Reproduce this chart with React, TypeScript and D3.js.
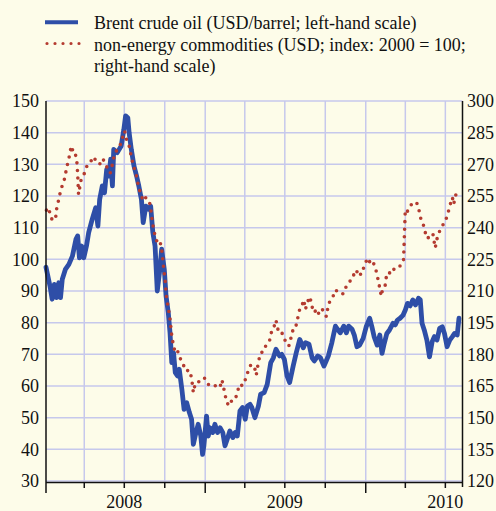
import React from "react";
import * as d3 from "d3";

// Brent crude oil, USD/barrel (left-hand scale)
const brentDates: string[] = [
  "2008-01-05","2008-01-14","2008-01-19","2008-01-24","2008-01-29","2008-02-03","2008-02-07","2008-02-11","2008-02-18","2008-02-26",
  "2008-03-05","2008-03-13","2008-03-17","2008-03-21","2008-03-26","2008-03-31","2008-04-06","2008-04-11","2008-04-19","2008-04-27",
  "2008-05-02","2008-05-06","2008-05-12","2008-05-17","2008-05-22","2008-05-27","2008-05-31","2008-06-04","2008-06-07","2008-06-15",
  "2008-06-24","2008-06-30","2008-07-04","2008-07-09","2008-07-12","2008-07-17","2008-07-23","2008-07-29","2008-08-03","2008-08-09",
  "2008-08-13","2008-08-19","2008-08-25","2008-08-30","2008-09-04","2008-09-09","2008-09-14","2008-09-19","2008-09-24","2008-09-30",
  "2008-10-04","2008-10-09","2008-10-13","2008-10-17","2008-10-21","2008-10-25","2008-10-30","2008-11-03","2008-11-09","2008-11-14",
  "2008-11-20","2008-11-26","2008-12-01","2008-12-05","2008-12-11","2008-12-16","2008-12-22","2008-12-26","2008-12-29","2009-01-04",
  "2009-01-08","2009-01-12","2009-01-18","2009-01-23","2009-01-29","2009-02-04","2009-02-10","2009-02-15","2009-02-20","2009-02-26",
  "2009-03-05","2009-03-10","2009-03-15","2009-03-21","2009-03-27","2009-04-02","2009-04-07","2009-04-13","2009-04-17","2009-04-24",
  "2009-05-02","2009-05-07","2009-05-15","2009-05-22","2009-05-30","2009-06-05","2009-06-11","2009-06-19","2009-06-24","2009-06-30",
  "2009-07-06","2009-07-12","2009-07-20","2009-07-27","2009-08-04","2009-08-12","2009-08-17","2009-08-25","2009-09-01","2009-09-06",
  "2009-09-14","2009-09-20","2009-09-28","2009-10-03","2009-10-08","2009-10-16","2009-10-24","2009-10-29","2009-11-04","2009-11-12",
  "2009-11-18","2009-11-23","2009-12-01","2009-12-06","2009-12-12","2009-12-18","2009-12-26","2010-01-02","2010-01-10","2010-01-15",
  "2010-01-20","2010-01-27","2010-02-02","2010-02-07","2010-02-12","2010-02-18","2010-02-24","2010-03-04","2010-03-09","2010-03-14",
  "2010-03-20","2010-03-27","2010-04-01","2010-04-06","2010-04-12","2010-04-18","2010-04-24","2010-05-01","2010-05-05","2010-05-09",
  "2010-05-14","2010-05-20","2010-05-26","2010-06-01","2010-06-06","2010-06-12","2010-06-18","2010-06-24","2010-06-29","2010-07-05",
  "2010-07-11","2010-07-17","2010-07-22","2010-07-28","2010-08-01",
];
const brentValues: number[] = [
  97.5,91.6,87.4,92.1,87.9,92.6,87.9,93.7,96.8,98.4,
  101.0,106.3,107.4,100.5,104.2,100.5,104.2,108.4,112.6,116.3,
  110.5,118.9,123.2,121.0,128.4,126.3,131.6,123.2,134.7,133.7,
  135.8,141.0,145.3,144.7,140.0,134.7,129.5,126.3,123.2,118.9,
  111.6,116.8,115.8,116.8,108.4,104.2,90.0,95.8,103.2,96.8,
  88.4,83.2,76.8,67.4,70.5,64.2,63.2,65.3,58.9,52.6,
  54.7,51.6,49.5,41.6,45.3,47.9,44.2,38.4,41.1,50.5,
  44.2,46.8,45.3,47.9,45.3,46.8,45.3,41.1,43.2,45.8,
  43.7,45.3,44.2,52.1,53.2,49.5,53.7,54.2,53.2,50.0,
  53.7,57.4,57.9,60.5,67.4,68.9,71.6,69.5,70.0,68.4,
  63.2,61.1,66.3,70.5,74.7,72.1,73.7,73.2,68.9,67.9,
  69.5,68.9,66.3,67.9,69.5,73.7,78.9,77.9,76.8,78.9,
  76.8,78.9,77.9,76.1,72.4,72.9,75.0,78.7,81.4,78.7,
  75.6,72.9,76.1,70.3,73.4,76.6,77.7,79.8,79.3,80.8,
  81.4,82.4,84.0,86.1,85.3,87.2,85.6,87.7,87.2,79.8,
  77.7,74.5,69.2,74.0,75.6,74.5,78.2,78.7,76.6,72.4,
  74.5,75.6,76.6,76.1,81.4,
];

// Non-energy commodities, USD, index 2000 = 100 (right-hand scale)
const commodityDates: string[] = [
  "2008-01-06","2008-01-11","2008-01-16","2008-01-21","2008-01-27","2008-01-29","2008-02-03","2008-02-08","2008-02-15","2008-02-18",
  "2008-02-22","2008-02-26","2008-03-01","2008-03-03","2008-03-07","2008-03-11","2008-03-15","2008-03-17","2008-03-19","2008-03-25",
  "2008-03-31","2008-04-04","2008-04-08","2008-04-14","2008-04-19","2008-04-23","2008-04-27","2008-05-02","2008-05-06","2008-05-12",
  "2008-05-16","2008-05-21","2008-05-25","2008-05-30","2008-06-04","2008-06-09","2008-06-15","2008-06-21","2008-06-26","2008-07-02",
  "2008-07-04","2008-07-08","2008-07-12","2008-07-15","2008-07-19","2008-07-23","2008-07-27","2008-07-30","2008-08-03","2008-08-09",
  "2008-08-13","2008-08-19","2008-08-24","2008-08-28","2008-09-01","2008-09-03","2008-09-09","2008-09-14","2008-09-20","2008-09-24",
  "2008-09-26","2008-09-28","2008-10-02","2008-10-05","2008-10-09","2008-10-13","2008-10-17","2008-10-21","2008-10-25","2008-10-30",
  "2008-11-03","2008-11-09","2008-11-12","2008-11-18","2008-11-26","2008-12-01","2008-12-05","2008-12-09","2008-12-13","2008-12-20",
  "2008-12-29","2009-01-03","2009-01-08","2009-01-16","2009-01-23","2009-01-29","2009-02-04","2009-02-08","2009-02-11","2009-02-15",
  "2009-02-19","2009-02-25","2009-03-02","2009-03-10","2009-03-15","2009-03-20","2009-03-25","2009-03-30","2009-04-04","2009-04-09",
  "2009-04-15","2009-04-19","2009-04-24","2009-04-27","2009-05-02","2009-05-07","2009-05-13","2009-05-19","2009-05-27","2009-05-30",
  "2009-06-02","2009-06-07","2009-06-11","2009-06-14","2009-06-19","2009-06-24","2009-06-28","2009-07-02","2009-07-06","2009-07-10",
  "2009-07-14","2009-07-15","2009-07-20","2009-07-25","2009-07-29","2009-08-02","2009-08-06","2009-08-10","2009-08-13","2009-08-17",
  "2009-08-21","2009-08-27","2009-08-30","2009-09-04","2009-09-09","2009-09-14","2009-09-19","2009-09-24","2009-09-28","2009-10-04",
  "2009-10-07","2009-10-13","2009-10-19","2009-10-24","2009-11-01","2009-11-08","2009-11-14","2009-11-18","2009-11-23","2009-11-29",
  "2009-12-04","2009-12-10","2009-12-13","2009-12-21","2009-12-27","2010-01-02","2010-01-07","2010-01-11","2010-01-17","2010-01-23",
  "2010-01-27","2010-01-30","2010-02-03","2010-02-05","2010-02-09","2010-02-14","2010-02-18","2010-02-24","2010-03-02","2010-03-07",
  "2010-03-13","2010-03-19","2010-03-24","2010-03-28","2010-04-01","2010-04-06","2010-04-11","2010-04-16","2010-04-21","2010-04-26",
  "2010-05-01","2010-05-05","2010-05-09","2010-05-13","2010-05-17","2010-05-22","2010-05-28","2010-06-03","2010-06-06","2010-06-08",
  "2010-06-14","2010-06-20","2010-06-26","2010-07-01","2010-07-05","2010-07-09","2010-07-13","2010-07-17","2010-07-20","2010-07-24",
  "2010-07-29",
];
const commodityValues: number[] = [
  248.3,249.5,244.8,243.3,244.8,248.7,253.4,258.2,262.1,265.2,
  269.3,272.7,277.1,278.7,275.6,275.6,271.7,265.5,255.8,263.0,
  265.2,266.9,270.0,270.8,272.4,273.6,271.7,270.8,270.0,272.7,
  271.7,269.3,267.6,265.8,270.0,274.8,277.1,278.7,281.9,285.8,
  282.6,281.1,278.7,275.6,271.7,268.4,266.1,263.0,258.9,255.0,
  252.6,254.3,253.4,251.4,246.3,242.4,236.1,233.0,233.7,229.8,
  225.8,221.9,214.8,206.9,202.1,196.7,188.7,183.9,180.8,181.7,
  179.3,176.1,175.2,172.1,172.5,168.9,161.9,165.8,167.0,167.0,
  168.9,168.2,165.8,164.7,165.0,165.8,164.7,167.9,165.0,161.1,
  157.1,155.6,158.0,158.4,161.9,165.8,165.3,165.5,169.5,172.1,
  175.2,173.7,173.0,170.1,176.4,180.8,181.1,184.2,186.3,188.7,
  192.2,193.4,196.2,192.6,189.9,190.2,189.0,186.3,185.6,183.9,
  186.3,188.0,191.9,192.2,195.8,199.8,203.0,203.7,205.8,201.3,
  204.5,207.3,204.5,199.8,200.6,198.5,201.3,201.6,198.9,197.9,
  202.5,206.1,207.6,210.5,209.3,208.4,209.3,212.7,213.9,215.3,
  217.7,216.9,220.1,217.7,220.8,224.1,225.6,223.2,224.1,220.8,
  217.7,214.1,210.6,207.5,211.4,212.4,218.6,218.6,218.1,220.8,
  220.8,221.7,222.5,224.9,248.7,247.8,250.2,251.1,251.6,252.2,
  249.5,245.1,242.6,240.8,237.2,234.8,237.2,236.7,232.8,230.4,
  236.7,239.1,241.5,242.6,245.9,248.4,251.6,254.3,251.1,255.0,
  258.2,
];

const leftTicks: number[] = [30, 40, 50, 60, 70, 80, 90, 100, 110, 120, 130, 140, 150];
const rightTicks: number[] = [120, 135, 150, 165, 180, 195, 210, 225, 240, 255, 270, 285, 300];
const yearLabels: string[] = ["2008", "2009", "2010"];
const legendOil = "Brent crude oil (USD/barrel; left-hand scale)";
const legendCommodityLines: string[] = [
  "non-energy commodities (USD; index: 2000 = 100;",
  "right-hand scale)",
];

const W = 496;
const H = 511;
const BG = "#fdfce9";
const GRID = "#c6c8ec";
const BLUE = "#2e4ea7";
const RED = "#b43b30";
const FONT = "'Liberation Serif', 'Times New Roman', serif";
const FS = 18;

const parse = d3.timeParse("%Y-%m-%d");

export default function App() {
  const left = 46;
  const right = 462.5;
  const top = 101;
  const bottom = 481;
  const axisY = 482.5;

  const x = d3
    .scaleTime()
    .domain([parse("2008-01-05") as Date, parse("2010-08-09") as Date])
    .range([left, right]);
  const yL = d3.scaleLinear().domain([30, 150]).range([bottom, top]);
  const yR = d3.scaleLinear().domain([120, 300]).range([bottom, top]);

  const brent = brentDates.map((d, i) => ({ date: parse(d) as Date, v: brentValues[i] }));
  const comm = commodityDates.map((d, i) => ({ date: parse(d) as Date, v: commodityValues[i] }));

  const lineL = d3
    .line<{ date: Date; v: number }>()
    .x((d) => x(d.date))
    .y((d) => yL(d.v));
  const lineR = d3
    .line<{ date: Date; v: number }>()
    .x((d) => x(d.date))
    .y((d) => yR(d.v));

  const quarters = d3.timeMonth
    .every(3)!
    .range(parse("2008-02-01") as Date, parse("2010-08-09") as Date);
  const midYears = yearLabels.map((y) => parse(`${y}-07-01`) as Date);

  return (
    <svg
      width={W}
      height={H}
      style={{ position: "absolute", left: 0, top: 0, display: "block" }}
      fontFamily={FONT}
    >
      <rect x={0} y={0} width={W} height={H} fill={BG} />

      {/* legend */}
      <line x1={45} x2={78} y1={22.3} y2={22.3} stroke={BLUE} strokeWidth={4} />
      <line
        x1={47}
        x2={80}
        y1={43.5}
        y2={43.5}
        stroke={RED}
        strokeWidth={3.2}
        strokeLinecap="round"
        strokeDasharray="0 8"
      />
      <text x={94} y={29} fontSize={FS} fill="#111">
        {legendOil}
      </text>
      {legendCommodityLines.map((t, i) => (
        <text key={t} x={94} y={51 + i * 21} fontSize={FS} fill="#111">
          {t}
        </text>
      ))}

      {/* grid */}
      {leftTicks.map((t) => (
        <line key={`h${t}`} x1={left} x2={right} y1={yL(t)} y2={yL(t)} stroke={GRID} strokeWidth={1.5} />
      ))}
      {quarters.map((q) => (
        <line key={`v${+q}`} x1={x(q)} x2={x(q)} y1={top} y2={axisY} stroke={GRID} strokeWidth={1.5} />
      ))}

      {/* series */}
      <path
        d={lineL(brent) || ""}
        fill="none"
        stroke={BLUE}
        strokeWidth={4.8}
        strokeLinejoin="round"
        strokeLinecap="round"
      />
      <path
        d={lineR(comm) || ""}
        fill="none"
        stroke={RED}
        strokeWidth={3.6}
        strokeLinecap="round"
        strokeDasharray="0 7.6"
      />

      {/* axes */}
      <line x1={left} x2={left} y1={top} y2={493} stroke="#111" strokeWidth={1.5} />
      <line x1={right} x2={right} y1={top} y2={487} stroke="#111" strokeWidth={1.5} />
      <line x1={left} x2={right} y1={axisY} y2={axisY} stroke="#111" strokeWidth={1.5} />
      {quarters.map((q) => (
        <line
          key={`t${+q}`}
          x1={x(q)}
          x2={x(q)}
          y1={axisY}
          y2={q.getMonth() === 0 ? 493 : 488}
          stroke="#111"
          strokeWidth={1.5}
        />
      ))}

      {leftTicks.map((t) => (
        <text key={`l${t}`} x={39} y={yL(t)} dy="0.35em" textAnchor="end" fontSize={FS} fill="#111">
          {t}
        </text>
      ))}
      {rightTicks.map((t) => (
        <text key={`r${t}`} x={467} y={yR(t)} dy="0.35em" textAnchor="start" fontSize={FS} fill="#111">
          {t}
        </text>
      ))}
      {yearLabels.map((y, i) => (
        <text key={y} x={x(midYears[i])} y={508} textAnchor="middle" fontSize={FS} fill="#111">
          {y}
        </text>
      ))}
    </svg>
  );
}
